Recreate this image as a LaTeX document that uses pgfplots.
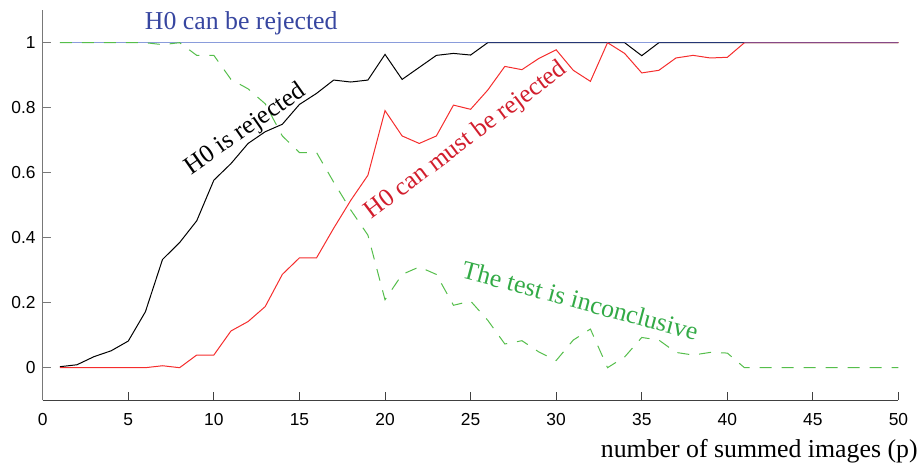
\documentclass[border=0pt]{standalone}
\usepackage{fontspec}
\setmainfont{Liberation Serif}
\setsansfont{Liberation Sans}
\usepackage{pgfplots}
\pgfplotsset{compat=1.18}
\definecolor{cblue}{RGB}{60,90,195}
\definecolor{cbluetext}{RGB}{55,70,160}
\definecolor{cred}{RGB}{245,45,45}
\definecolor{credtext}{RGB}{210,30,45}
\definecolor{cgreen}{RGB}{85,190,75}
\definecolor{cgreentext}{RGB}{50,170,70}
\definecolor{axgray}{RGB}{120,120,120}
\begin{document}
\begin{tikzpicture}
\useasboundingbox (-21.35pt,-34.4pt) rectangle (439.65pt,200.1pt);
\begin{axis}[
  at={(0,0)}, anchor=south west,
  scale only axis, width=427.9pt, height=195pt,
  xmin=0, xmax=50, ymin=-0.1, ymax=1.1,
  axis x line*=bottom, axis y line*=left,
  x axis line style={draw=black!75},
  y axis line style={draw=axgray},
  xtick={0,5,...,50}, ytick={0,0.2,0.4,0.6,0.8,1},
  tick align=inside, major tick length=4pt,
  xtick style={draw=black!75, line width=0.5pt},
  ytick style={draw=axgray, line width=0.5pt},
  tick label style={font=\fontsize{8.7}{10}\sffamily},
  /pgf/number format/assume math mode=true,
  xticklabel style={yshift=-3pt},
  xlabel={number of summed images (p)},
  xlabel style={at={(axis description cs:1,0)}, anchor=base east, inner sep=0pt,
     xshift=9.75pt, yshift=-28.5pt, font=\fontsize{12.9}{15}\selectfont},
  clip=false,
]
\addplot[black, line width=0.5pt] coordinates {
(1,0.003) (2,0.009) (3,0.034) (4,0.052) (5,0.082) (6,0.172) (7,0.333) (8,0.385)
(9,0.452) (10,0.577) (11,0.628) (12,0.690) (13,0.726) (14,0.749) (15,0.810)
(16,0.844) (17,0.885) (18,0.879) (19,0.885) (20,0.964) (21,0.887) (22,0.924)
(23,0.961) (24,0.967) (25,0.962) (26,1) (27,1) (28,1) (29,1) (30,1) (31,1)
(32,1) (33,1) (34,1) (35,0.96) (36,1) (37,1) (38,1) (39,1) (40,1) (41,1)
(42,1) (43,1) (44,1) (45,1) (46,1) (47,1) (48,1) (49,1) (50,1)};
\addplot[cred, line width=0.5pt] coordinates {
(1,0) (2,0) (3,0) (4,0) (5,0) (6,0) (7,0.006) (8,0) (9,0.039) (10,0.039)
(11,0.113) (12,0.142) (13,0.188) (14,0.287) (15,0.338) (16,0.338) (17,0.429)
(18,0.515) (19,0.592) (20,0.791) (21,0.713) (22,0.690) (23,0.713) (24,0.808)
(25,0.795) (26,0.854) (27,0.927) (28,0.917) (29,0.952) (30,0.978) (31,0.915)
(32,0.881) (33,1) (34,0.967) (35,0.907) (36,0.915) (37,0.953) (38,0.961)
(39,0.953) (40,0.955) (41,1) (42,1) (43,1) (44,1) (45,1) (46,1) (47,1)
(48,1) (49,1) (50,1)};
\addplot[cblue, line width=0.6pt, opacity=0.6] coordinates {(1,1) (50,1)};
\addplot[cgreen, line width=0.5pt, dash pattern=on 6pt off 5pt] coordinates {
(1,1) (2,1) (3,1) (4,1) (5,1) (6,1) (7,0.994) (8,1) (9,0.961) (10,0.961)
(11,0.887) (12,0.858) (13,0.812) (14,0.713) (15,0.662) (16,0.662) (17,0.571)
(18,0.485) (19,0.408) (20,0.209) (21,0.287) (22,0.310) (23,0.287) (24,0.192)
(25,0.205) (26,0.146) (27,0.073) (28,0.083) (29,0.048) (30,0.022) (31,0.085)
(32,0.119) (33,0) (34,0.033) (35,0.093) (36,0.085) (37,0.047) (38,0.039)
(39,0.047) (40,0.045) (41,0) (42,0) (43,0) (44,0) (45,0) (46,0) (47,0)
(48,0) (49,0) (50,0)};
\node[cbluetext, anchor=base, font=\fontsize{12.9}{15}\selectfont] at (axis cs:11.6,1.04) {H0 can be rejected};
\node[black, rotate=35, font=\fontsize{12.7}{15}\selectfont] at (axis cs:11.85,0.732) {H0 is rejected};
\node[credtext, rotate=37, font=\fontsize{12.7}{15}\selectfont] at (axis cs:24.75,0.698) {H0 can must be rejected};
\node[cgreentext, rotate=-15, font=\fontsize{12.9}{15}\selectfont] at (axis cs:31.41,0.206) {The test is inconclusive};
\end{axis}
\end{tikzpicture}
\end{document}
